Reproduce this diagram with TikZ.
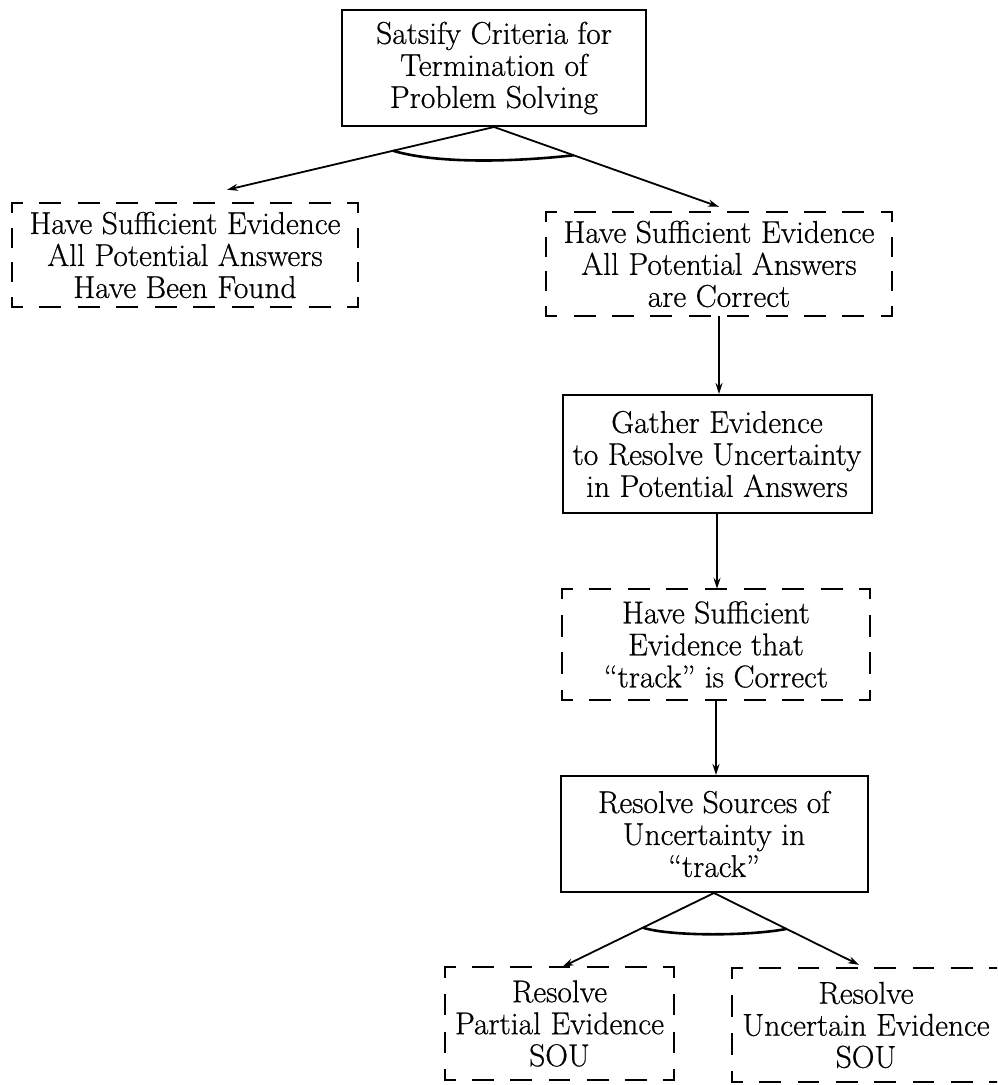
\documentclass[tikz,border=0pt]{standalone}
\usepackage{fontspec}
\setmainfont{Latin Modern Roman}[UprightFeatures={FakeBold=0.6}]
\usetikzlibrary{arrows.meta,calc}

% One side of a dashed frame: the dash period is stretched so that both
% ends of the side stop in the middle of a dash, giving closed corners.
\newcommand\dsSide[2]{%
  \path let \p1=(#1), \p2=(#2),
            \n1={veclen(\x2-\x1,\y2-\y1)},
            \n2={max(1,round(\n1/39))},
            \n3={\n1/\n2} in
    \pgfextra{%
      \pgfmathsetmacro\dsOn{0.52*\n3}%
      \pgfmathsetmacro\dsOff{0.48*\n3}%
      \pgfmathsetmacro\dsPh{0.26*\n3}%
      \xdef\dsOn{\dsOn}\xdef\dsOff{\dsOff}\xdef\dsPh{\dsPh}};
  \draw[dashline, dash pattern=on \dsOn pt off \dsOff pt, dash phase=\dsPh pt] (#1) -- (#2);
}
\newcommand\dashedframe[1]{%
  \dsSide{#1.north west}{#1.north east}%
  \dsSide{#1.north east}{#1.south east}%
  \dsSide{#1.south east}{#1.south west}%
  \dsSide{#1.south west}{#1.north west}%
}

\begin{document}
\begin{tikzpicture}[x=1pt, y=-1pt,
  every node/.style={font=\fontsize{31.5}{32}\selectfont},
  solidbox/.style={draw, line width=2pt, rectangle, inner sep=0pt, align=center},
  dashbox/.style={rectangle, inner sep=0pt, align=center},
  dashline/.style={line width=2pt, line cap=rect},
  link/.style={line width=1.8pt, -{Stealth[length=11pt,width=7pt]}},
  andarc/.style={line width=2.6pt}]

\useasboundingbox (0,0) rectangle (997,1085);
\clip (0,0) rectangle (997,1085);

% goal and sub-goal boxes
\node[solidbox, minimum width=304pt, minimum height=116pt] (top) at (494,68)
  {Satsify Criteria for\\Termination of\\Problem Solving};
\node[dashbox, minimum width=346pt, minimum height=104pt] (L1) at (185,255)
  {Have Sufficient Evidence\\All Potential Answers\\Have Been Found};
\node[dashbox, minimum width=345pt, minimum height=104pt] (R1) at (719,264)
  {Have Sufficient Evidence\\All Potential Answers\\are Correct};
\node[solidbox, minimum width=309pt, minimum height=118pt] (gather) at (717,454)
  {Gather Evidence\\to Resolve Uncertainty\\in Potential Answers};
\node[dashbox, minimum width=308pt, minimum height=111pt] (track) at (716,644.5)
  {Have Sufficient\\Evidence that\\``track'' is Correct};
\node[solidbox, minimum width=307pt, minimum height=116pt] (resolve) at (714,834)
  {Resolve Sources of\\Uncertainty in\\``track''};
\node[dashbox, minimum width=229pt, minimum height=113pt] (B1) at (559.5,1023.5)
  {Resolve\\Partial Evidence\\SOU};
\node[dashbox, minimum width=268pt, minimum height=114pt] (B2) at (866,1025)
  {Resolve\\Uncertain Evidence\\SOU};

\dashedframe{L1}
\dashedframe{R1}
\dashedframe{track}
\dashedframe{B1}
\dashedframe{B2}

% connectors
\draw[link] (top.south) -- coordinate[pos=0.378] (la) ([xshift=42pt,yshift=13pt]L1.north);
\draw[link] (top.south) -- coordinate[pos=0.354] (ra) ([yshift=5pt]R1.north);
\draw[link] (R1.south) -- (R1.south |- gather.north);
\draw[link] (gather.south) -- (gather.south |- track.north);
\draw[link] (track.south) -- (track.south |- resolve.north);
\draw[link] (resolve.south) -- coordinate[pos=0.47] (lb) ([xshift=3pt]B1.north);
\draw[link] (resolve.south) -- coordinate[pos=0.50] (rb) ([xshift=-7pt,yshift=3pt]B2.north);

% AND arcs joining the sibling links
\draw[andarc] (la) .. controls ($(la)+(47,14)$) and ($(ra)+(-53,6)$) .. (ra);
\draw[andarc] (lb) .. controls ($(lb)+(29,9)$) and ($(rb)+(-36,7)$) .. (rb);

\end{tikzpicture}
\end{document}
